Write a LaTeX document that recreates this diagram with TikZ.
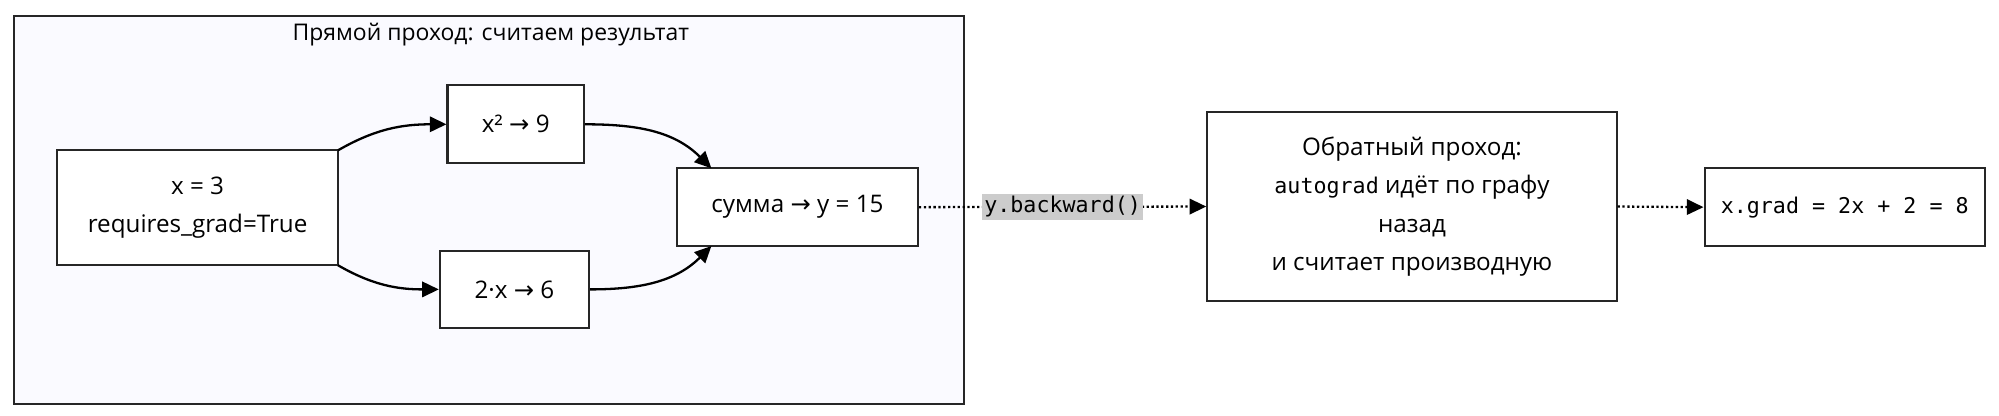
\documentclass[tikz,border=0pt]{standalone}
\usepackage{fontspec}
\setmainfont{Open Sans}
\setmonofont{DejaVu Sans Mono}
\newfontfamily\dvfont{DejaVu Sans}
\newcommand\myarr{{\dvfont →}}
\usetikzlibrary{arrows.meta}
\begin{document}
\begin{tikzpicture}[x=1pt,y=-1pt,
  box/.style={draw=black!85,line width=1.6pt,fill=white,align=center,font=\fontsize{19}{30}\selectfont,inner sep=0pt},
  arr/.style={line width=1.8pt,-{Triangle[length=13pt,width=12pt]}},
  dot/.style={line width=1.8pt,dotted,-{Triangle[length=13pt,width=12pt]}}]
\useasboundingbox (0,0) rectangle (1568,326);
\node[draw=black!85,line width=1.6pt,fill=blue!2!white,minimum width=745pt,minimum height=304pt,anchor=north west] (frame) at (10,12) {};
\node[font=\fontsize{18}{20}\selectfont] (title) at (385,27) {Прямой проход: считаем результат};
\node[box,minimum width=220pt,minimum height=90pt] (x) at (155,163) {x = 3\\requires\_grad=True};
\node[box,minimum width=107pt,minimum height=61pt] (sq) at (404.5,97.5) {x² \myarr{} 9};
\node[box,minimum width=117pt,minimum height=60pt] (tw) at (403.5,227) {2·x \myarr{} 6};
\node[box,minimum width=189pt,minimum height=61pt] (sum) at (625.5,162.5) {сумма \myarr{} y = 15};
\node[box,minimum width=321pt,minimum height=148pt] (bw) at (1107.5,162) {Обратный проход:\\\texttt{\fontsize{17}{30}\selectfont autograd} идёт по графу\\назад\\и считает производную};
\node[box,minimum width=220pt,minimum height=61pt] (gr) at (1447,162.5) {\texttt{\fontsize{17}{20}\selectfont x.grad = 2x + 2 = 8}};
\draw[arr] (265,118) to[out=30,in=180] (sq.west);
\draw[arr] (265,208) to[out=-30,in=180] (tw.west);
\draw[arr] (sq.east) to[out=0,in=135] (558,132);
\draw[arr] (tw.east) to[out=0,in=-135] (558,193);
\draw[dot] (sum.east) -- node[fill=black!20,inner sep=2pt,font=\ttfamily\fontsize{17}{20}\selectfont] (lbl) {y.backward()} (bw.west);
\draw[dot] (bw.east) -- (gr.west);
\end{tikzpicture}
\end{document}
